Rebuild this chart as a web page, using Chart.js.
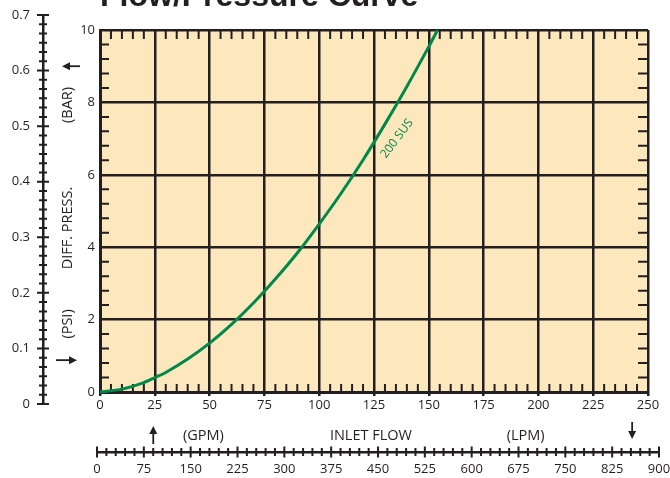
<!DOCTYPE html>
<html>
<head>
<meta charset="utf-8">
<script src="https://cdn.jsdelivr.net/npm/chart.js@4.4.1/dist/chart.umd.min.js"></script>
<style>
  html, body { margin: 0; padding: 0; background: #fff; }
  canvas { display: block; }
</style>
</head>
<body>
<canvas id="myChart" width="670" height="478"></canvas>
<script>
  // 200 SUS curve (GPM -> PSI)
  const flowGpm = [0, 10, 20, 25, 30, 40, 50, 60, 70, 80, 90, 100, 110, 120, 130, 140, 150, 154];
  const pressurePsi = [0, 0.08, 0.26, 0.4, 0.54, 0.91, 1.35, 1.87, 2.46, 3.12, 3.84, 4.64, 5.49, 6.41, 7.4, 8.44, 9.54, 10];

  const gpmTicks = [0, 25, 50, 75, 100, 125, 150, 175, 200, 225, 250];
  const psiTicks = [0, 2, 4, 6, 8, 10];
  const barTicks = [0, 0.1, 0.2, 0.3, 0.4, 0.5, 0.6, 0.7];
  const lpmTicks = [0, 75, 150, 225, 300, 375, 450, 525, 600, 675, 750, 825, 900];

  const ink = '#231f20';
  const green = '#00874a';
  const paper = '#fde7bd';
  const font = '"Open Sans", sans-serif';

  const setTicks = (list) => (scale) => { scale.ticks = list.map(v => ({ value: v })); };

  // secondary axes span a bit more than the plot box
  const axisSpan = {
    id: 'axisSpan',
    afterLayout(chart) {
      const b = chart.scales.yBar;
      b.top = 15; b.bottom = 404; b.height = b.bottom - b.top;
      b.configure();
      const l = chart.scales.xLpm;
      l.left = 97; l.right = 659; l.width = l.right - l.left;
      l.configure();
    }
  };

  const paperBg = {
    id: 'paperBg',
    beforeDraw(chart) {
      const { ctx, chartArea: a } = chart;
      ctx.save();
      ctx.fillStyle = paper;
      ctx.fillRect(a.left, a.top, a.right - a.left, a.bottom - a.top);
      ctx.restore();
    }
  };

  // small inner ticks on the box, and crossing ticks on the outer axes
  const minorTicks = {
    id: 'minorTicks',
    beforeDatasetsDraw(chart) {
      const { ctx, chartArea: a, scales } = chart;
      const { x, y, yBar, xLpm } = scales;
      ctx.save();
      ctx.strokeStyle = ink;
      ctx.lineWidth = 2;
      ctx.beginPath();
      for (let i = 1; i < 50; i++) {
        if (i % 5 === 0) continue;
        const px = x.getPixelForValue(i * 5);
        ctx.moveTo(px, a.top); ctx.lineTo(px, a.top + 9);
        ctx.moveTo(px, a.bottom); ctx.lineTo(px, a.bottom - 8);
      }
      for (let i = 1; i < 25; i++) {
        if (i % 5 === 0) continue;
        const py = y.getPixelForValue(i * 0.4);
        ctx.moveTo(a.left, py); ctx.lineTo(a.left + 9, py);
        ctx.moveTo(a.right, py); ctx.lineTo(a.right - 10, py);
      }
      const bx = yBar.right;
      for (let i = 0; i <= 42; i++) {
        const py = yBar.getPixelForValue(i * 0.1 / 6);
        const w = i % 6 === 0 ? 6 : 4;
        ctx.moveTo(bx - w, py); ctx.lineTo(bx + w, py);
      }
      const ly = xLpm.top;
      for (let i = 0; i <= 60; i++) {
        const px = xLpm.getPixelForValue(i * 15);
        const h = i % 5 === 0 ? 5.5 : 4;
        ctx.moveTo(px, ly - h); ctx.lineTo(px, ly + h);
      }
      ctx.stroke();
      ctx.restore();
    }
  };

  function arrow(ctx, x1, y1, x2, y2) {
    const ang = Math.atan2(y2 - y1, x2 - x1);
    const len = 8, half = 4;
    const bx = x2 - Math.cos(ang) * len, by = y2 - Math.sin(ang) * len;
    ctx.beginPath();
    ctx.moveTo(x1, y1); ctx.lineTo(bx, by);
    ctx.stroke();
    ctx.beginPath();
    ctx.moveTo(x2, y2);
    ctx.lineTo(bx - Math.sin(ang) * half, by + Math.cos(ang) * half);
    ctx.lineTo(bx + Math.sin(ang) * half, by - Math.cos(ang) * half);
    ctx.closePath();
    ctx.fill();
  }

  const notes = {
    id: 'notes',
    afterDraw(chart) {
      const { ctx, scales } = chart;
      const { x, y, xLpm } = scales;
      ctx.save();
      ctx.fillStyle = ink;
      ctx.strokeStyle = ink;
      ctx.lineWidth = 1.8;
      ctx.font = '14.5px ' + font;
      ctx.textAlign = 'center';
      ctx.textBaseline = 'middle';

      const lx = y.left + 25;
      [['(BAR)', 7.93], ['DIFF. PRESS.', 4.53], ['(PSI)', 1.88]].forEach(([t, v]) => {
        ctx.save();
        ctx.translate(lx, y.getPixelForValue(v));
        ctx.rotate(-Math.PI / 2);
        ctx.fillText(t, 0, 0);
        ctx.restore();
      });
      const ay1 = y.getPixelForValue(9.0);
      arrow(ctx, y.left + 37, ay1, y.left + 19, ay1);
      const ay2 = y.getPixelForValue(0.88);
      arrow(ctx, y.left + 13, ay2, y.left + 34, ay2);

      const ty = xLpm.top - 16;
      ctx.fillText('(GPM)', x.getPixelForValue(47.2), ty);
      ctx.fillText('INLET FLOW', x.getPixelForValue(123.6), ty);
      ctx.fillText('(LPM)', x.getPixelForValue(194.2), ty);
      const ux = x.getPixelForValue(24.3);
      arrow(ctx, ux, xLpm.top - 8, ux, xLpm.top - 26);
      const dx = xLpm.getPixelForValue(857);
      arrow(ctx, dx, xLpm.top - 30, dx, xLpm.top - 13);

      ctx.fillStyle = green;
      ctx.font = '12px ' + font;
      ctx.translate(x.getPixelForValue(135.5), y.getPixelForValue(7.0));
      ctx.rotate(-53 * Math.PI / 180);
      ctx.fillText('200 SUS', 0, 0);
      ctx.restore();
    }
  };

  const data = {
    labels: flowGpm,
    datasets: [{
      label: '200 SUS',
      data: flowGpm.map((g, i) => ({ x: g, y: pressurePsi[i] })),
      borderColor: green,
      borderWidth: 3,
      pointRadius: 0,
      tension: 0.3,
      fill: false,
      clip: false,
    }]
  };

  const tickFont = { family: font, size: 13 };

  const config = {
    type: 'line',
    data: data,
    options: {
      responsive: false,
      animation: false,
      layout: { padding: { left: 0, right: 22, top: 0, bottom: 0 } },
      plugins: {
        legend: { display: false },
        tooltip: { enabled: false },
        title: {
          display: true,
          text: 'Flow/Pressure Curve',
          align: 'start',
          fullSize: false,
          color: ink,
          font: { family: '"Liberation Sans", Arial, sans-serif', weight: 'bold', size: 32, lineHeight: 1 },
          padding: { top: -19, bottom: 17 },
        },
      },
      scales: {
        x: {
          type: 'linear', position: 'bottom', weight: 0,
          min: 0, max: 250,
          afterBuildTicks: setTicks(gpmTicks),
          afterFit: (s) => { s.height = 60; },
          grid: { color: ink, lineWidth: 2.5, drawTicks: true, tickLength: 4, tickColor: ink, tickWidth: 2.5 },
          border: { display: true, color: ink, width: 3 },
          ticks: { color: ink, font: tickFont, padding: 1, maxRotation: 0 },
        },
        xLpm: {
          type: 'linear', position: 'bottom', weight: 1,
          min: 0, max: 900,
          afterBuildTicks: setTicks(lpmTicks),
          afterFit: (s) => { s.height = 26; },
          grid: { display: false, drawOnChartArea: false, drawTicks: false },
          border: { display: true, color: ink, width: 2.5 },
          ticks: { color: ink, font: tickFont, padding: 9, maxRotation: 0, autoSkip: false },
        },
        y: {
          type: 'linear', position: 'left', weight: 0,
          min: 0, max: 10,
          afterBuildTicks: setTicks(psiTicks),
          afterFit: (s) => { s.width = 57; },
          grid: { color: ink, lineWidth: 2.5, drawTicks: false },
          border: { display: true, color: ink, width: 3 },
          ticks: { color: ink, font: tickFont, padding: 5 },
        },
        yBar: {
          type: 'linear', position: 'left', weight: 1,
          min: 0, max: 0.7,
          afterBuildTicks: setTicks(barTicks),
          afterFit: (s) => { s.width = 43; },
          grid: { display: false, drawOnChartArea: false, drawTicks: false },
          border: { display: true, color: ink, width: 2.5 },
          ticks: { color: ink, font: tickFont, padding: 13 },
        },
      }
    },
    plugins: [axisSpan, paperBg, minorTicks, notes]
  };

  const myChart = new Chart(
    document.getElementById('myChart'),
    config
  );
</script>
</body>
</html>
